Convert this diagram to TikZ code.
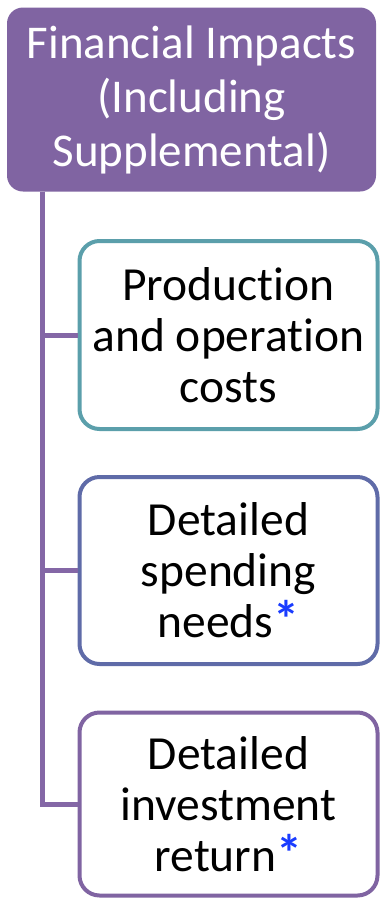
\documentclass[tikz,border=0pt]{standalone}
\usepackage{fontspec}
\setmainfont[Ligatures={NoCommon}]{Carlito}
\definecolor{hdrpurple}{HTML}{8064A2}
\definecolor{linepurple}{HTML}{8467A6}
\definecolor{tealb}{HTML}{5B9FAB}
\definecolor{blueb}{HTML}{5F6BA8}
\definecolor{purpb}{HTML}{8064A2}
\definecolor{astblue}{HTML}{1A3CFF}
\newcommand{\blueast}{\textcolor{astblue}{\fontsize{52}{51}\selectfont\bfseries *}}
\begin{document}
\begin{tikzpicture}[x=1pt,y=1pt,
  hdr/.style={fill=hdrpurple, draw=none, rounded corners=16pt, text=white,
    minimum width=369pt, minimum height=184pt, align=center,
    font=\fontsize{47}{54}\selectfont, inner sep=0pt},
  child/.style={draw=#1, line width=4pt, fill=white, rounded corners=20pt,
    minimum width=298pt, align=center, text=black,
    font=\fontsize{47.5}{51}\selectfont, inner sep=0pt},
  conn/.style={draw=linepurple, line width=5pt}]
\useasboundingbox (0,0) rectangle (381,-898);
\node[hdr] (top) at (191.5,-99.5) {Financial Impacts\\(Including\\Supplemental)};
\node[child=tealb, minimum height=188pt] (b1) at (228.5,-335) {Production\\and operation\\costs};
\node[child=blueb, minimum height=187pt] (b2) at (228.5,-570.5) {Detailed\\spending\\needs\blueast};
\node[child=purpb, minimum height=183pt] (b3) at (228.5,-804) {Detailed\\investment\\return\blueast};
\coordinate (trunk) at (42,-191.5);
\draw[conn] (trunk) |- (b3.west);
\draw[conn] (trunk) |- (b1.west);
\draw[conn] (trunk) |- (b2.west);
\end{tikzpicture}
\end{document}
